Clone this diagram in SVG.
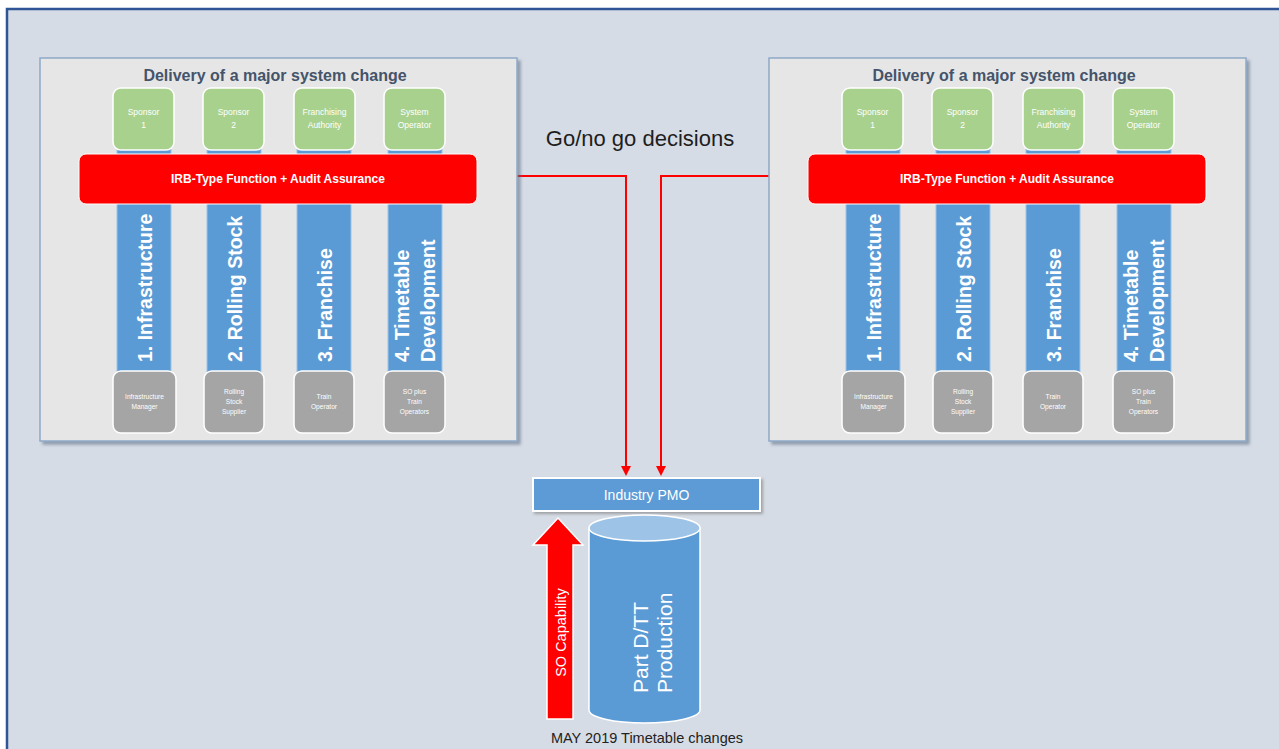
<svg xmlns="http://www.w3.org/2000/svg" width="1279" height="749" viewBox="0 0 1279 749">
<defs>
<style>
.f{font-family:"Liberation Sans",Arial,sans-serif}
.title{font-size:16px;font-weight:bold;fill:#44546a;text-anchor:middle}
.green{fill:#a9d18e;stroke:#ffffff;stroke-width:1.5}
.gt{font-size:8.5px;fill:#ffffff;text-anchor:middle}
.col{fill:#5b9bd5;stroke:#9dc3e6;stroke-width:1}
.ct{font-size:19.5px;font-weight:bold;fill:#ffffff}
.gray{fill:#a5a5a5;stroke:#ffffff;stroke-width:1.5}
.grt{font-size:6.6px;fill:#ffffff;text-anchor:middle}
.bar{fill:#ff0000;stroke:#ffffff;stroke-width:1}
.bt{font-size:12px;font-weight:bold;fill:#ffffff;text-anchor:middle}
.panel{fill:#e7e6e6;stroke:#8ea9c8;stroke-width:1.5}
.link{fill:none;stroke:#ff0000;stroke-width:2}
.head{fill:#ff0000}
</style>
<filter id="sh" x="-10%" y="-10%" width="130%" height="130%">
<feDropShadow dx="3" dy="3" stdDeviation="1.5" flood-color="#5a6a80" flood-opacity="0.55"/>
</filter>
<filter id="sh2" x="-10%" y="-20%" width="130%" height="160%">
<feDropShadow dx="2" dy="2" stdDeviation="1.5" flood-color="#666666" flood-opacity="0.5"/>
</filter>
</defs>
<rect x="0" y="0" width="1279" height="749" fill="#ffffff"/>
<rect id="frame" x="7" y="9" width="1290" height="760" fill="#d6dce5" stroke="#2f5597" stroke-width="2.5"/>

<g id="connectors">
<polyline class="link" points="517,176 626,176 626,468"/>
<path class="head" d="M621,466 L631,466 L626,476 Z"/>
<polyline class="link" points="769,176 661,176 661,468"/>
<path class="head" d="M656,466 L666,466 L661,476 Z"/>
</g>

<g id="left-panel" class="f">
<rect class="panel" x="40" y="58" width="477" height="383" filter="url(#sh)"/>
<text class="title" x="275" y="81">Delivery of a major system change</text>
<g id="l-col1"><rect class="col" x="117" y="146" width="54" height="232"/><text class="ct" transform="translate(151.5,362) rotate(-90)">1. Infrastructure</text></g>
<g id="l-col2"><rect class="col" x="207" y="146" width="54" height="232"/><text class="ct" transform="translate(241.5,362) rotate(-90)">2. Rolling Stock</text></g>
<g id="l-col3"><rect class="col" x="297" y="146" width="54" height="232"/><text class="ct" transform="translate(331.5,362) rotate(-90)">3. Franchise</text></g>
<g id="l-col4"><rect class="col" x="388" y="146" width="54" height="232"/><text class="ct" transform="translate(409,362) rotate(-90)">4. Timetable</text><text class="ct" transform="translate(435,362) rotate(-90)">Development</text></g>
<g id="l-sponsor1"><rect class="green" x="113" y="88" width="61" height="62" rx="8"/><text class="gt" x="143.5" y="115">Sponsor</text><text class="gt" x="143.5" y="128">1</text></g>
<g id="l-sponsor2"><rect class="green" x="203" y="88" width="61" height="62" rx="8"/><text class="gt" x="233.5" y="115">Sponsor</text><text class="gt" x="233.5" y="128">2</text></g>
<g id="l-fa"><rect class="green" x="294" y="88" width="61" height="62" rx="8"/><text class="gt" x="324.5" y="115">Franchising</text><text class="gt" x="324.5" y="128">Authority</text></g>
<g id="l-so"><rect class="green" x="384" y="88" width="61" height="62" rx="8"/><text class="gt" x="414.5" y="115">System</text><text class="gt" x="414.5" y="128">Operator</text></g>
<g id="l-irb"><rect class="bar" x="79" y="154" width="398" height="50" rx="7"/><text class="bt" x="278" y="183">IRB-Type Function + Audit Assurance</text></g>
<g id="l-im"><rect class="gray" x="113" y="371" width="63" height="62" rx="8"/><text class="grt" x="144.5" y="399">Infrastructure</text><text class="grt" x="144.5" y="409">Manager</text></g>
<g id="l-rss"><rect class="gray" x="204" y="371" width="60" height="62" rx="8"/><text class="grt" x="234" y="394">Rolling</text><text class="grt" x="234" y="404">Stock</text><text class="grt" x="234" y="414">Supplier</text></g>
<g id="l-to"><rect class="gray" x="294" y="371" width="60" height="62" rx="8"/><text class="grt" x="324" y="399">Train</text><text class="grt" x="324" y="409">Operator</text></g>
<g id="l-sto"><rect class="gray" x="384" y="371" width="61" height="62" rx="8"/><text class="grt" x="414.5" y="394">SO plus</text><text class="grt" x="414.5" y="404">Train</text><text class="grt" x="414.5" y="414">Operators</text></g>
</g>

<g id="right-panel" class="f" transform="translate(729,0)">
<rect class="panel" x="40" y="58" width="477" height="383" filter="url(#sh)"/>
<text class="title" x="275" y="81">Delivery of a major system change</text>
<g id="r-col1"><rect class="col" x="117" y="146" width="54" height="232"/><text class="ct" transform="translate(151.5,362) rotate(-90)">1. Infrastructure</text></g>
<g id="r-col2"><rect class="col" x="207" y="146" width="54" height="232"/><text class="ct" transform="translate(241.5,362) rotate(-90)">2. Rolling Stock</text></g>
<g id="r-col3"><rect class="col" x="297" y="146" width="54" height="232"/><text class="ct" transform="translate(331.5,362) rotate(-90)">3. Franchise</text></g>
<g id="r-col4"><rect class="col" x="388" y="146" width="54" height="232"/><text class="ct" transform="translate(409,362) rotate(-90)">4. Timetable</text><text class="ct" transform="translate(435,362) rotate(-90)">Development</text></g>
<g id="r-sponsor1"><rect class="green" x="113" y="88" width="61" height="62" rx="8"/><text class="gt" x="143.5" y="115">Sponsor</text><text class="gt" x="143.5" y="128">1</text></g>
<g id="r-sponsor2"><rect class="green" x="203" y="88" width="61" height="62" rx="8"/><text class="gt" x="233.5" y="115">Sponsor</text><text class="gt" x="233.5" y="128">2</text></g>
<g id="r-fa"><rect class="green" x="294" y="88" width="61" height="62" rx="8"/><text class="gt" x="324.5" y="115">Franchising</text><text class="gt" x="324.5" y="128">Authority</text></g>
<g id="r-so"><rect class="green" x="384" y="88" width="61" height="62" rx="8"/><text class="gt" x="414.5" y="115">System</text><text class="gt" x="414.5" y="128">Operator</text></g>
<g id="r-irb"><rect class="bar" x="79" y="154" width="398" height="50" rx="7"/><text class="bt" x="278" y="183">IRB-Type Function + Audit Assurance</text></g>
<g id="r-im"><rect class="gray" x="113" y="371" width="63" height="62" rx="8"/><text class="grt" x="144.5" y="399">Infrastructure</text><text class="grt" x="144.5" y="409">Manager</text></g>
<g id="r-rss"><rect class="gray" x="204" y="371" width="60" height="62" rx="8"/><text class="grt" x="234" y="394">Rolling</text><text class="grt" x="234" y="404">Stock</text><text class="grt" x="234" y="414">Supplier</text></g>
<g id="r-to"><rect class="gray" x="294" y="371" width="60" height="62" rx="8"/><text class="grt" x="324" y="399">Train</text><text class="grt" x="324" y="409">Operator</text></g>
<g id="r-sto"><rect class="gray" x="384" y="371" width="61" height="62" rx="8"/><text class="grt" x="414.5" y="394">SO plus</text><text class="grt" x="414.5" y="404">Train</text><text class="grt" x="414.5" y="414">Operators</text></g>
</g>

<g id="go-label" class="f"><text x="640" y="146" font-size="22" fill="#1e1e1e" text-anchor="middle">Go/no go decisions</text></g>

<g id="pmo" class="f">
<rect x="533" y="478" width="227" height="33" fill="#5b9bd5" stroke="#ffffff" stroke-width="2" filter="url(#sh2)"/>
<text x="646.5" y="500" font-size="14" fill="#ffffff" text-anchor="middle">Industry PMO</text>
</g>

<g id="so-capability" class="f">
<path d="M558,518 L583,545 L573,545 L573,719 L547,719 L547,545 L533,545 Z" fill="#ff0000" stroke="#ffffff" stroke-width="1.5"/>
<text transform="translate(565.5,632.5) rotate(-90)" font-size="14.5" fill="#ffffff" text-anchor="middle">SO Capability</text>
</g>

<g id="part-d" class="f">
<path d="M589,528 V710 A55.5,13 0 0 0 700,710 V528 Z" fill="#5b9bd5" stroke="#ffffff" stroke-width="1.5"/>
<ellipse cx="644.5" cy="528" rx="55.5" ry="13" fill="#9dc3e6" stroke="#ffffff" stroke-width="1.5"/>
<text transform="translate(648,693) rotate(-90)" font-size="21" fill="#ffffff">Part D/TT</text>
<text transform="translate(672,693) rotate(-90)" font-size="21" fill="#ffffff">Production</text>
</g>

<g id="caption" class="f"><text x="647" y="743" font-size="14.5" fill="#222222" text-anchor="middle">MAY 2019 Timetable changes</text></g>
</svg>
